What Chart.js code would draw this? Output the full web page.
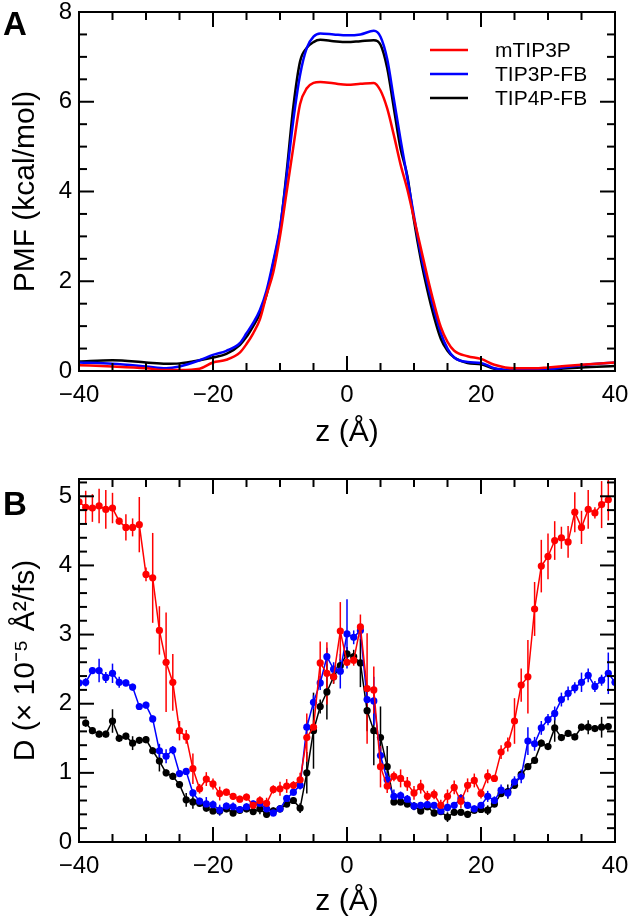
<!DOCTYPE html>
<html>
<head>
<meta charset="utf-8">
<script src="https://cdn.jsdelivr.net/npm/chart.js@4.4.1/dist/chart.umd.min.js"></script>
<style>
  html, body { margin: 0; padding: 0; background: #fff; }
  #wrap { position: relative; width: 630px; height: 923px;
          font-family: "Liberation Sans", Arial, Helvetica, sans-serif; }
  canvas { position: absolute; left: 0; }
  #pmf { top: 0; }
  #diff { top: 455px; }
  .tag { position: absolute; left: 3px; font-weight: bold; font-size: 33px; line-height: 1; }
</style>
</head>
<body>
<div id="wrap">
  <canvas id="pmf" width="630" height="455"></canvas>
  <canvas id="diff" width="630" height="468"></canvas>
  <div class="tag" style="top:7px">A</div>
  <div class="tag" style="top:487px">B</div>
</div>
<script>
/* Panel A: PMF along z. Panel B: diffusion coefficient with error bars. */

const COLORS = { "mTIP3P": "#ff0000", "TIP3P-FB": "#0000ff", "TIP4P-FB": "#000000" };

// tick labels
const zTicks = [-40, -20, 0, 20, 40];
const pmfTicks = [0, 2, 4, 6, 8];
const diffTicks = [0, 1, 2, 3, 4, 5];

// panel A, z in Angstrom
const pmfZ = [-40, -35, -30, -27, -25, -22, -20, -18, -16, -15, -14, -13, -12, -11, -10,
  -9, -8, -7, -6, -5, -4, -2, 0, 2, 4, 5, 6, 7, 8, 9, 10, 11, 12, 13, 14, 15, 16,
  18, 20, 22, 25, 28, 30, 35, 40];
const pmfRed = [0.13, 0.10, 0.06, 0.02, 0.02, 0.05, 0.19, 0.25, 0.41, 0.60, 0.84, 1.15, 1.70, 2.20, 3.00,
  4.00, 5.00, 5.95, 6.30, 6.42, 6.44, 6.41, 6.38, 6.40, 6.42, 6.25, 5.85, 5.25, 4.60, 4.05, 3.40, 2.75, 2.10, 1.50, 0.98, 0.65, 0.45,
  0.33, 0.27, 0.14, 0.06, 0.06, 0.08, 0.14, 0.19];
const pmfBlue = [0.19, 0.16, 0.10, 0.06, 0.10, 0.24, 0.36, 0.45, 0.62, 0.84, 1.07, 1.36, 1.80, 2.45, 3.20,
  4.35, 5.60, 6.60, 7.20, 7.45, 7.52, 7.50, 7.48, 7.50, 7.58, 7.45, 6.95, 6.05, 5.15, 4.30, 3.45, 2.62, 1.95, 1.36, 0.85, 0.50, 0.30,
  0.20, 0.18, 0.06, 0.02, 0.03, 0.04, 0.13, 0.19];
const pmfBlack = [0.21, 0.24, 0.19, 0.16, 0.17, 0.24, 0.30, 0.38, 0.58, 0.76, 1.00, 1.28, 1.70, 2.40, 3.15,
  4.45, 5.90, 6.90, 7.20, 7.33, 7.38, 7.35, 7.33, 7.35, 7.37, 7.27, 6.75, 5.85, 4.95, 4.35, 3.35, 2.50, 1.80, 1.20, 0.72, 0.45, 0.30,
  0.18, 0.15, 0.05, 0.00, 0.00, 0.03, 0.08, 0.11];

// panel B, one point per Angstrom
const diffZ = [-40, -39, -38, -37, -36, -35, -34, -33, -32, -31,
  -30, -29, -28, -27, -26, -25, -24, -23, -22, -21,
  -20, -19, -18, -17, -16, -15, -14, -13, -12, -11,
  -10, -9, -8, -7, -6, -5, -4, -3, -2, -1,
  0, 1, 2, 3, 4, 5, 6, 7, 8, 9,
  10, 11, 12, 13, 14, 15, 16, 17, 18, 19,
  20, 21, 22, 23, 24, 25, 26, 27, 28, 29,
  30, 31, 32, 33, 34, 35, 36, 37, 38, 39,
  40];
const diffRed = [4.92, 4.84, 4.83, 4.86, 4.81, 4.83, 4.64, 4.55, 4.55, 4.59,
  3.87, 3.82, 3.06, 2.60, 2.31, 1.61, 1.52, 1.06, 0.77, 0.91,
  0.84, 0.70, 0.72, 0.66, 0.62, 0.65, 0.53, 0.60, 0.56, 0.76,
  0.77, 0.81, 0.82, 0.90, 1.51, 1.66, 2.59, 2.44, 2.39, 3.05,
  2.60, 2.63, 3.11, 2.22, 2.20, 1.09, 0.81, 0.95, 0.92, 0.84,
  0.71, 0.80, 0.66, 0.69, 0.53, 0.66, 0.79, 0.59, 0.82, 0.89,
  0.70, 0.95, 0.92, 1.30, 1.41, 1.75, 2.27, 2.39, 3.37, 3.99,
  4.13, 4.36, 4.40, 4.34, 4.77, 4.55, 4.81, 4.76, 4.88, 4.95,
  null];
const diffRedErr = [0.05, 0.24, 0.20, 0.25, 0.28, 0.22, 0.05, 0.19, 0.13, 0.40,
  0.10, 0.65, 0.35, 0.72, 0.41, 0.14, 0.10, 0.22, 0.07, 0.10,
  0.08, 0.10, 0.05, 0.05, 0.05, 0.05, 0.05, 0.06, 0.08, 0.06,
  0.10, 0.10, 0.06, 0.10, 0.35, 0.10, 0.31, 0.45, 0.10, 0.42,
  0.05, 0.08, 0.18, 0.80, 0.34, 0.30, 0.10, 0.07, 0.13, 0.10,
  0.10, 0.10, 0.08, 0.07, 0.08, 0.10, 0.10, 0.10, 0.10, 0.10,
  0.07, 0.10, 0.05, 0.10, 0.10, 0.33, 0.24, 0.53, 0.39, 0.38,
  0.33, 0.28, 0.16, 0.23, 0.29, 0.24, 0.28, 0.08, 0.34, 0.30,
  null];
const diffBlue = [2.30, 2.31, 2.48, 2.48, 2.38, 2.44, 2.31, 2.30, 2.24, 1.96,
  1.98, 1.78, 1.32, 1.24, 1.33, 0.99, 1.02, 0.71, 0.59, 0.55,
  0.54, 0.46, 0.52, 0.51, 0.47, 0.51, 0.55, 0.56, 0.48, 0.42,
  0.48, 0.63, 0.72, 0.82, 1.66, 2.02, 2.30, 2.68, 2.50, 2.47,
  3.01, 2.96, 3.06, 2.06, 2.04, 1.25, 0.90, 0.66, 0.67, 0.62,
  0.52, 0.53, 0.54, 0.53, 0.45, 0.50, 0.53, 0.63, 0.53, 0.48,
  0.53, 0.66, 0.60, 0.75, 0.71, 0.87, 0.95, 1.46, 1.42, 1.65,
  1.77, 1.86, 2.06, 2.15, 2.23, 2.31, 2.41, 2.25, 2.34, 2.44,
  2.31];
const diffBlueErr = [0.05, 0.06, 0.05, 0.17, 0.08, 0.14, 0.08, 0.05, 0.05, 0.05,
  0.05, 0.05, 0.10, 0.10, 0.06, 0.05, 0.05, 0.05, 0.05, 0.10,
  0.06, 0.08, 0.05, 0.06, 0.05, 0.05, 0.05, 0.05, 0.05, 0.05,
  0.05, 0.05, 0.05, 0.06, 0.10, 0.10, 0.10, 0.13, 0.10, 0.25,
  0.50, 0.10, 0.10, 0.12, 0.35, 0.12, 0.10, 0.10, 0.06, 0.06,
  0.06, 0.05, 0.05, 0.05, 0.06, 0.06, 0.05, 0.06, 0.05, 0.05,
  0.05, 0.08, 0.06, 0.08, 0.08, 0.08, 0.10, 0.20, 0.10, 0.10,
  0.08, 0.10, 0.10, 0.10, 0.08, 0.14, 0.10, 0.08, 0.08, 0.30,
  0.10];
const diffBlack = [null, 1.72, 1.61, 1.56, 1.56, 1.75, 1.50, 1.53, 1.43, 1.47,
  1.48, 1.32, 1.17, 1.00, 0.95, 0.83, 0.61, 0.58, 0.56, 0.49,
  0.45, 0.45, 0.48, 0.42, 0.46, 0.48, 0.44, 0.48, 0.40, 0.45,
  0.48, 0.55, 0.60, 0.49, 1.00, 1.61, 1.96, 2.17, 2.39, 2.55,
  2.72, 2.68, 2.59, 1.90, 1.61, 1.51, 1.09, 0.58, 0.58, 0.55,
  0.52, 0.45, 0.51, 0.42, 0.44, 0.36, 0.43, 0.43, 0.40, 0.46,
  0.47, 0.46, 0.55, 0.70, 0.73, 0.82, 0.98, 1.09, 1.18, 1.43,
  1.38, 1.65, 1.51, 1.57, 1.52, 1.66, 1.66, 1.64, 1.66, 1.67,
  null];
const diffBlackErr = [null, 0.05, 0.05, 0.05, 0.05, 0.17, 0.05, 0.05, 0.10, 0.05,
  0.05, 0.05, 0.15, 0.05, 0.05, 0.05, 0.10, 0.10, 0.05, 0.05,
  0.05, 0.05, 0.05, 0.05, 0.05, 0.05, 0.05, 0.08, 0.05, 0.05,
  0.05, 0.05, 0.05, 0.07, 0.30, 0.55, 0.10, 0.40, 0.10, 0.10,
  0.10, 0.10, 0.35, 0.30, 0.50, 0.45, 0.30, 0.05, 0.05, 0.05,
  0.05, 0.05, 0.05, 0.05, 0.05, 0.07, 0.05, 0.05, 0.05, 0.05,
  0.05, 0.07, 0.05, 0.05, 0.10, 0.05, 0.05, 0.05, 0.05, 0.05,
  0.05, 0.20, 0.05, 0.05, 0.05, 0.05, 0.10, 0.05, 0.15, 0.05,
  null];

const FONT = '"Liberation Sans", Arial, Helvetica, sans-serif';
Chart.defaults.font.family = FONT;
Chart.defaults.color = "#000";

function fmtTick(v) {
  return v < 0 ? "\u2212" + Math.abs(v) : String(v);
}
function pts(xs, ys) {
  return xs.map((x, i) => ({ x, y: ys[i] }));
}

/* box around the plot with inward ticks on all four sides (xmgrace style) */
const frame = {
  id: "frame",
  afterDatasetsDraw(chart, args, o) {
    const { ctx, chartArea: a, scales: { x, y } } = chart;
    ctx.save();
    ctx.strokeStyle = "#000";
    ctx.lineWidth = 2;
    const line = (x0, y0, x1, y1) => {
      ctx.beginPath(); ctx.moveTo(x0, y0); ctx.lineTo(x1, y1); ctx.stroke();
    };
    const walk = (scale, major, minor, fn) => {
      const n = Math.floor((scale.max - scale.min) / minor + 1e-6);
      for (let i = 0; i <= n; i++) {
        const v = scale.min + i * minor;
        const isMajor = Math.abs(v / major - Math.round(v / major)) < 1e-6;
        fn(scale.getPixelForValue(v), isMajor ? 15 : 8);
      }
    };
    walk(x, o.xMajor, o.xMinor, (px, len) => {
      line(px, a.bottom, px, a.bottom - len);
      line(px, a.top, px, a.top + len);
    });
    walk(y, o.yMajor, o.yMinor, (py, len) => {
      line(a.left, py, a.left + len, py);
      line(a.right, py, a.right - len, py);
    });
    ctx.strokeRect(a.left, a.top, a.right - a.left, a.bottom - a.top);
    ctx.restore();
  },
};

/* vertical error bars read from dataset.errors */
const errorBars = {
  id: "errorBars",
  beforeDatasetsDraw(chart) {
    const { ctx, chartArea: a, scales: { x, y } } = chart;
    ctx.save();
    ctx.beginPath();
    ctx.rect(a.left, a.top, a.right - a.left, a.bottom - a.top);
    ctx.clip();
    const list = chart.data.datasets.slice().reverse();
    for (const ds of list) {
      if (!ds.errors) continue;
      ctx.strokeStyle = ds.borderColor;
      ctx.lineWidth = 1.5;
      ds.data.forEach((p, j) => {
        const e = ds.errors[j];
        if (p.y == null || e == null) return;
        const px = x.getPixelForValue(p.x);
        ctx.beginPath();
        ctx.moveTo(px, y.getPixelForValue(p.y - e));
        ctx.lineTo(px, y.getPixelForValue(p.y + e));
        ctx.stroke();
      });
    }
    ctx.restore();
  },
};

/* legend drawn inside the top-right corner of panel A */
const pmfLegend = {
  id: "pmfLegend",
  afterDatasetsDraw(chart) {
    const { ctx, chartArea: a } = chart;
    ctx.save();
    ctx.font = "21px " + FONT;
    ctx.textBaseline = "middle";
    chart.data.datasets.forEach((ds, i) => {
      const yy = a.top + 38 + i * 24;
      ctx.strokeStyle = ds.borderColor;
      ctx.lineWidth = 2.5;
      ctx.beginPath();
      ctx.moveTo(a.right - 185, yy);
      ctx.lineTo(a.right - 147, yy);
      ctx.stroke();
      ctx.fillStyle = "#000";
      ctx.fillText(ds.label, a.right - 120, yy + 1);
    });
    ctx.restore();
  },
};

function zeroPad(s) {
  s.paddingTop = 0; s.paddingBottom = 0; s.paddingLeft = 0; s.paddingRight = 0;
}
function fixedTicks(values) {
  return (s) => { s.ticks = values.map((value) => ({ value })); };
}
function xAxis(height, tickPad, titlePad) {
  return {
    type: "linear", min: -40, max: 40,
    grid: { display: false, drawTicks: false },
    border: { display: false },
    ticks: { padding: tickPad, autoSkip: false, maxRotation: 0,
             font: { size: 24 }, callback: fmtTick },
    afterBuildTicks: fixedTicks(zTicks),
    title: { display: true, text: "z (\u00C5)", font: { size: 30 },
             padding: { top: 0, bottom: titlePad } },
    afterFit(s) { s.height = height; zeroPad(s); },
  };
}
function yAxis(max, values, title) {
  return {
    min: 0, max,
    grid: { display: false, drawTicks: false },
    border: { display: false },
    ticks: { padding: 7, autoSkip: false, font: { size: 24 }, callback: fmtTick },
    afterBuildTicks: fixedTicks(values),
    title: { display: true, text: title, font: { size: 30 },
             padding: { top: 8, bottom: 0 } },
    afterFit(s) { s.width = 79; zeroPad(s); },
  };
}

function pmfSet(label, ys) {
  return {
    label, data: pts(pmfZ, ys),
    borderColor: COLORS[label], borderWidth: 2.5,
    pointRadius: 0, cubicInterpolationMode: "monotone",
  };
}
function diffSet(label, ys, errs) {
  return {
    label, data: pts(diffZ, ys), errors: errs,
    borderColor: COLORS[label], backgroundColor: COLORS[label], borderWidth: 1.5,
    pointRadius: 3.6, pointBorderWidth: 0, pointBackgroundColor: COLORS[label],
  };
}

new Chart(document.getElementById("pmf"), {
  type: "line",
  data: { datasets: [
    pmfSet("mTIP3P", pmfRed),
    pmfSet("TIP3P-FB", pmfBlue),
    pmfSet("TIP4P-FB", pmfBlack),
  ] },
  options: {
    responsive: false, animation: false,
    layout: { padding: { top: 12, right: 15, left: 0, bottom: 0 } },
    plugins: { legend: { display: false }, tooltip: { enabled: false },
               frame: { xMajor: 20, xMinor: 5, yMajor: 2, yMinor: 0.5 } },
    scales: { x: xAxis(84, 10, 4), y: yAxis(8, pmfTicks, "PMF (kcal/mol)") },
  },
  plugins: [frame, pmfLegend],
});

new Chart(document.getElementById("diff"), {
  type: "line",
  data: { datasets: [
    diffSet("mTIP3P", diffRed, diffRedErr),
    diffSet("TIP3P-FB", diffBlue, diffBlueErr),
    diffSet("TIP4P-FB", diffBlack, diffBlackErr),
  ] },
  options: {
    responsive: false, animation: false,
    layout: { padding: { top: 24, right: 15, left: 0, bottom: 0 } },
    plugins: { legend: { display: false }, tooltip: { enabled: false },
               frame: { xMajor: 20, xMinor: 5, yMajor: 1, yMinor: 0.2 } },
    scales: { x: xAxis(81, 10, 3),
              y: yAxis(5.25, diffTicks, "D (\u00D7 10\u207B\u2075 \u00C5\u00B2/fs)") },
  },
  plugins: [errorBars, frame],
});
</script>
</body>
</html>
